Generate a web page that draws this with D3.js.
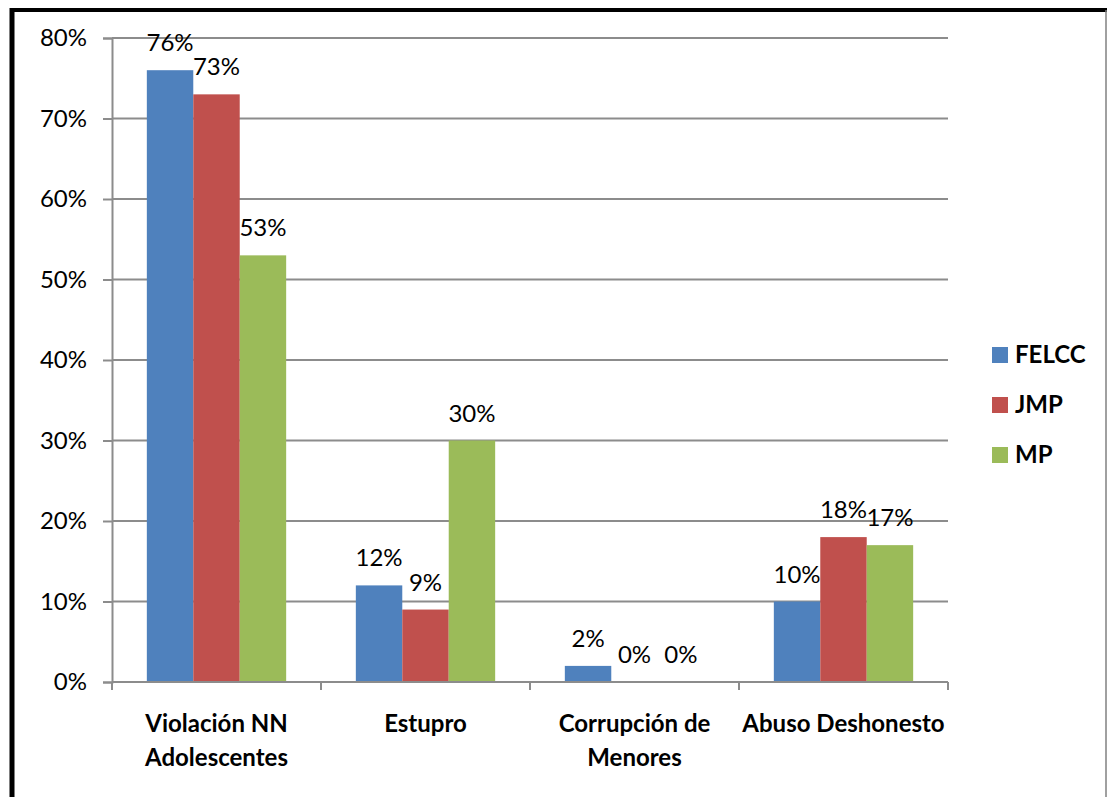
<!DOCTYPE html>
<html>
<head>
<meta charset="utf-8">
<script src="https://cdn.jsdelivr.net/npm/d3@7"></script>
<style>
  body { margin: 0; background: #fff; }
  text { font-family: Lato, "Open Sans", sans-serif; }
</style>
</head>
<body>
<div id="chart"></div>
<script>
// Chart data
const categories = [
  ["Violación NN", "Adolescentes"],
  ["Estupro"],
  ["Corrupción de", "Menores"],
  ["Abuso Deshonesto"]
];
const seriesNames = ["FELCC", "JMP", "MP"];
const felcc = [0.76, 0.12, 0.02, 0.10];
const jmp = [0.73, 0.09, 0, 0.18];
const mp = [0.53, 0.30, 0, 0.17];
const yTicks = [0, 0.1, 0.2, 0.3, 0.4, 0.5, 0.6, 0.7, 0.8];
const colors = ["#4F81BD", "#C0504D", "#9BBB59"];

const series = [felcc, jmp, mp];
const W = 1107, H = 797;
const plot = { left: 112, right: 948, top: 38, bottom: 682 };
const fs = 24;

const svg = d3.select("#chart").append("svg")
  .attr("width", W).attr("height", H);

// Outer frame
svg.append("rect").attr("x", 0).attr("y", 0).attr("width", W).attr("height", H).attr("fill", "#fff");
svg.append("line").attr("x1", 12).attr("x2", 12).attr("y1", 8).attr("y2", H).attr("stroke", "#000").attr("stroke-width", 5);
svg.append("line").attr("x1", 10).attr("x2", W).attr("y1", 10).attr("y2", 10).attr("stroke", "#000").attr("stroke-width", 4);
svg.append("line").attr("x1", 1106).attr("x2", 1106).attr("y1", 10).attr("y2", H).attr("stroke", "#808080").attr("stroke-width", 1.5);

// Scales
const x0 = d3.scaleBand()
  .domain(d3.range(categories.length))
  .range([plot.left, plot.right]);
const x1 = d3.scaleBand()
  .domain(d3.range(series.length))
  .range([0, x0.bandwidth()])
  .paddingOuter(0.75);
const y = d3.scaleLinear().domain([0, 0.8]).range([plot.bottom, plot.top]);

// Gridlines
svg.append("g")
  .selectAll("line")
  .data(yTicks.filter(d => d > 0))
  .join("line")
  .attr("x1", plot.left).attr("x2", plot.right)
  .attr("y1", d => y(d)).attr("y2", d => y(d))
  .attr("stroke", "#8c8c8c").attr("stroke-width", 2);

// Y axis
const yAxis = svg.append("g")
  .attr("transform", `translate(${plot.left},0)`)
  .call(d3.axisLeft(y).tickValues(yTicks).tickFormat(d3.format(".0%")).tickSize(9).tickPadding(16));
yAxis.select(".domain").attr("stroke", "#8c8c8c").attr("stroke-width", 2);
yAxis.selectAll(".tick line").attr("stroke", "#8c8c8c").attr("stroke-width", 2);
yAxis.selectAll(".tick text").attr("font-size", fs).attr("fill", "#000")
  .style("font-family", "Lato, 'Open Sans', sans-serif");

// Bars
const groups = svg.append("g")
  .selectAll("g")
  .data(categories.map((c, i) => i))
  .join("g")
  .attr("transform", i => `translate(${x0(i)},0)`);

groups.selectAll("rect")
  .data(i => series.map((s, j) => ({ j, v: s[i] })))
  .join("rect")
  .attr("x", d => x1(d.j))
  .attr("width", x1.bandwidth())
  .attr("y", d => y(d.v))
  .attr("height", d => y(0) - y(d.v))
  .attr("fill", d => colors[d.j]);

groups.selectAll("text")
  .data(i => series.map((s, j) => ({ j, v: s[i] })))
  .join("text")
  .attr("x", d => x1(d.j) + x1.bandwidth() / 2)
  .attr("y", d => y(d.v) - 19)
  .attr("text-anchor", "middle")
  .attr("font-size", fs)
  .attr("fill", "#000")
  .text(d => d3.format(".0%")(d.v));

// X axis
const xAxis = svg.append("g").attr("transform", `translate(0,${plot.bottom})`);
xAxis.append("line")
  .attr("x1", plot.left).attr("x2", plot.right)
  .attr("stroke", "#8c8c8c").attr("stroke-width", 2);
xAxis.selectAll(".xt")
  .data(d3.range(categories.length + 1))
  .join("line")
  .attr("class", "xt")
  .attr("x1", i => i < categories.length ? x0(i) : plot.right)
  .attr("x2", i => i < categories.length ? x0(i) : plot.right)
  .attr("y1", 0).attr("y2", 8)
  .attr("stroke", "#8c8c8c").attr("stroke-width", 2);

// Category labels
svg.append("g")
  .selectAll("text")
  .data(categories.map((c, i) => ({ c, i })))
  .join("text")
  .attr("x", d => x0(d.i) + x0.bandwidth() / 2)
  .attr("y", 732)
  .attr("text-anchor", "middle")
  .attr("font-size", fs)
  .attr("font-weight", "bold")
  .attr("fill", "#000")
  .selectAll("tspan")
  .data(d => d.c.map(line => ({ line, x: x0(d.i) + x0.bandwidth() / 2 })))
  .join("tspan")
  .attr("x", d => d.x)
  .attr("dy", (d, k) => k === 0 ? 0 : 34)
  .text(d => d.line);

// Legend
const legend = svg.append("g")
  .selectAll("g")
  .data(seriesNames)
  .join("g")
  .attr("transform", (d, i) => `translate(992,${347 + i * 50})`);
legend.append("rect")
  .attr("width", 16).attr("height", 16)
  .attr("fill", (d, i) => colors[i]);
legend.append("text")
  .attr("x", 23).attr("y", 16)
  .attr("font-size", fs)
  .attr("font-weight", "bold")
  .attr("fill", "#000")
  .text(d => d);
</script>
</body>
</html>
